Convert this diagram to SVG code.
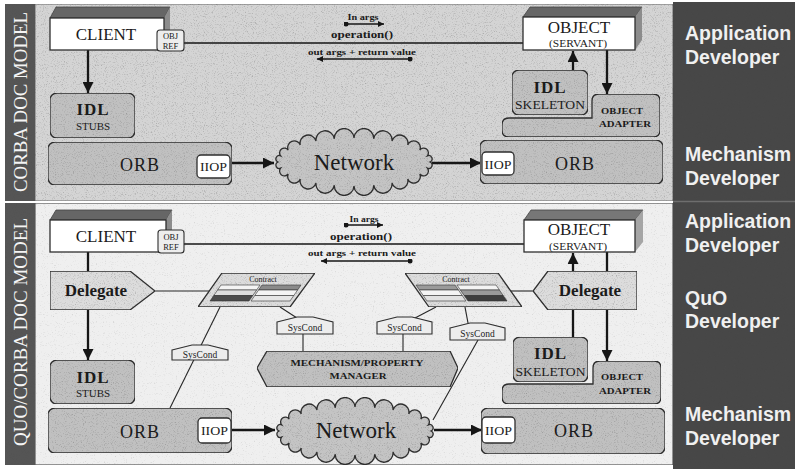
<svg xmlns="http://www.w3.org/2000/svg" width="795" height="469" viewBox="0 0 795 469">
  <style>
    .box { fill: #c0c0c0; stroke: #2e2e2e; stroke-width: 1.3; filter: url(#grain); }
    .plain { fill: #ffffff; stroke: #2e2e2e; stroke-width: 1.3; }
    .light { fill: #dcdcdc; stroke: #2e2e2e; stroke-width: 1.3; filter: url(#grain); }
    .tag { fill: #ededed; stroke: #2e2e2e; stroke-width: 1.1; }
    .topface { fill: #666666; stroke: #444; stroke-width: 0.8; }
    .sideface { fill: #8c8c8c; stroke: none; }
    .cloud { fill: #c4c4c4; stroke: #2e2e2e; stroke-width: 1.3; filter: url(#grain); }
    .grainy { filter: url(#grain); }
    .soft { filter: url(#grain-soft); }
    .serif { font-family: "Liberation Serif", "Times New Roman", serif; fill: #1b1b1b; text-anchor: middle; }
    .bold { font-weight: bold; }
    .side { font-family: "Liberation Sans", Arial, sans-serif; font-weight: bold; font-size: 19.5px; fill: #f0f0f0; }
    .band { font-family: "Liberation Serif", "Times New Roman", serif; font-size: 19px; fill: #f4f4f4; text-anchor: middle; }
    .conn { stroke: #161616; stroke-width: 2.3; fill: none; }
    .thin { stroke: #262626; stroke-width: 1.1; fill: none; }
    .msg { stroke: #161616; stroke-width: 1.3; fill: none; }
  </style>
  <defs>
    <!-- speckled print texture laid over a shape's own fill -->
    <filter id="grain" x="0" y="0" width="100%" height="100%" color-interpolation-filters="sRGB">
      <feTurbulence type="fractalNoise" baseFrequency="0.9" numOctaves="2" seed="7" result="noise"/>
      <feColorMatrix in="noise" type="matrix" values="0 0 0 0 0.3  0 0 0 0 0.3  0 0 0 0 0.3  0.9 0 0 0 -0.48" result="speck"/>
      <feComposite in="speck" in2="SourceGraphic" operator="in" result="clipped"/>
      <feMerge>
        <feMergeNode in="SourceGraphic"/>
        <feMergeNode in="clipped"/>
      </feMerge>
    </filter>
    <filter id="grain-soft" x="0" y="0" width="100%" height="100%" color-interpolation-filters="sRGB">
      <feTurbulence type="fractalNoise" baseFrequency="0.9" numOctaves="2" seed="11" result="noise"/>
      <feColorMatrix in="noise" type="matrix" values="0 0 0 0 0.4  0 0 0 0 0.4  0 0 0 0 0.4  0.6 0 0 0 -0.36" result="speck"/>
      <feComposite in="speck" in2="SourceGraphic" operator="in" result="clipped"/>
      <feMerge>
        <feMergeNode in="SourceGraphic"/>
        <feMergeNode in="clipped"/>
      </feMerge>
    </filter>
    <marker id="arrow" viewBox="0 0 10 10" refX="10" refY="5" markerWidth="12" markerHeight="11" markerUnits="userSpaceOnUse" orient="auto">
      <path d="M0,0 L10,5 L0,10 z" fill="#161616"/>
    </marker>
    <marker id="arrow-s" viewBox="0 0 10 10" refX="10" refY="5" markerWidth="8" markerHeight="6" markerUnits="userSpaceOnUse" orient="auto">
      <path d="M0,0 L10,5 L0,10 z" fill="#161616"/>
    </marker>
    <marker id="dot" viewBox="0 0 10 10" refX="5" refY="5" markerWidth="5" markerHeight="5" markerUnits="userSpaceOnUse">
      <circle cx="5" cy="5" r="5" fill="#161616"/>
    </marker>
    <!-- bumpy cloud outline centred on the origin -->
    <path id="cloud-shape" d="M76,0 A1,1 0 0 1 73.4,6.2 A1,1 0 0 1 65.8,12 A1,1 0 0 1 53.7,17 A1,1 0 0 1 38,20.8 A1,1 0 0 1 19.7,23.2 A1,1 0 0 1 0,24 A1,1 0 0 1 -19.7,23.2 A1,1 0 0 1 -38,20.8 A1,1 0 0 1 -53.7,17 A1,1 0 0 1 -65.8,12 A1,1 0 0 1 -73.4,6.2 A1,1 0 0 1 -76,0 A1,1 0 0 1 -73.4,-6.2 A1,1 0 0 1 -65.8,-12 A1,1 0 0 1 -53.7,-17 A1,1 0 0 1 -38,-20.8 A1,1 0 0 1 -19.7,-23.2 A1,1 0 0 1 0,-24 A1,1 0 0 1 19.7,-23.2 A1,1 0 0 1 38,-20.8 A1,1 0 0 1 53.7,-17 A1,1 0 0 1 65.8,-12 A1,1 0 0 1 73.4,-6.2 A1,1 0 0 1 76,0 Z"/>
  </defs>

  <!-- page and bands -->
  <rect x="0" y="0" width="795" height="469" fill="#ffffff"/>
  <g id="frame">
    <rect class="grainy" x="35" y="4" width="638" height="197" fill="#d4d4d4" stroke="#6a6a6a" stroke-width="1"/>
    <rect class="soft" x="35" y="203" width="638" height="262" fill="#efefef" stroke="#555" stroke-width="1.2"/>
    <rect class="grainy" x="5" y="4" width="30" height="197" fill="#555555"/>
    <rect class="grainy" x="5" y="203" width="30" height="262" fill="#555555"/>
    <rect class="grainy" x="673" y="2" width="122" height="467" fill="#474747"/>
    <line x1="673" y1="201.5" x2="795" y2="201.5" stroke="#6e6e6e" stroke-width="1.5"/>
    <text class="band" transform="translate(27,102) rotate(-90)" textLength="180" lengthAdjust="spacingAndGlyphs">CORBA DOC MODEL</text>
    <text class="band" transform="translate(27,332) rotate(-90)" textLength="228" lengthAdjust="spacingAndGlyphs">QUO/CORBA DOC MODEL</text>
  </g>

  <!-- role labels -->
  <g id="roles">
    <text class="side" x="685" y="40">Application</text>
    <text class="side" x="685" y="64">Developer</text>
    <text class="side" x="685" y="161">Mechanism</text>
    <text class="side" x="685" y="185">Developer</text>
    <text class="side" x="685" y="228">Application</text>
    <text class="side" x="685" y="252">Developer</text>
    <text class="side" x="685" y="305">QuO</text>
    <text class="side" x="685" y="328">Developer</text>
    <text class="side" x="685" y="421">Mechanism</text>
    <text class="side" x="685" y="445">Developer</text>
  </g>

  <!-- connectors -->
  <g id="connectors">
    <!-- CORBA model -->
    <line class="conn" x1="184" y1="43" x2="523" y2="43" style="stroke-width:1.4"/>
    <line class="conn" x1="88" y1="50" x2="88" y2="93" marker-end="url(#arrow)"/>
    <line class="conn" x1="573" y1="70" x2="573" y2="51" marker-end="url(#arrow)"/>
    <line class="conn" x1="607" y1="50" x2="607" y2="94" marker-end="url(#arrow)"/>
    <line class="conn" x1="231" y1="163" x2="274" y2="163" marker-end="url(#arrow)"/>
    <line class="conn" x1="432" y1="163" x2="481" y2="163" marker-end="url(#arrow)"/>
    <line class="msg" x1="346" y1="24" x2="384" y2="24" marker-start="url(#dot)" marker-end="url(#arrow-s)"/>
    <line class="msg" x1="410" y1="59" x2="317" y2="59" marker-start="url(#dot)" marker-end="url(#arrow-s)"/>

    <!-- QuO/CORBA model -->
    <line class="conn" x1="184" y1="244" x2="524" y2="244" style="stroke-width:1.4"/>
    <line class="conn" x1="88" y1="252" x2="88" y2="271"/>
    <line class="conn" x1="88" y1="310" x2="88" y2="360" marker-end="url(#arrow)"/>
    <line class="conn" x1="573" y1="271" x2="573" y2="253" marker-end="url(#arrow)"/>
    <line class="conn" x1="573" y1="310" x2="573" y2="337"/>
    <line class="conn" x1="607" y1="252" x2="607" y2="361" marker-end="url(#arrow)"/>
    <line class="conn" x1="231" y1="430" x2="275" y2="430" marker-end="url(#arrow)"/>
    <line class="conn" x1="434" y1="430" x2="482" y2="430" marker-end="url(#arrow)"/>
    <line class="msg" x1="346" y1="225" x2="383" y2="225" marker-start="url(#dot)" marker-end="url(#arrow-s)"/>
    <line class="msg" x1="410" y1="261" x2="321" y2="261" marker-start="url(#dot)" marker-end="url(#arrow-s)"/>

    <line class="thin" x1="155" y1="291" x2="210" y2="291"/>
    <line class="thin" x1="511" y1="291" x2="533" y2="291"/>
    <line class="thin" x1="220" y1="307" x2="170" y2="408"/>
    <line class="thin" x1="280" y1="307" x2="297" y2="318"/>
    <line class="thin" x1="303" y1="334" x2="303" y2="351"/>
    <line class="thin" x1="403" y1="334" x2="403" y2="351"/>
    <line class="thin" x1="436" y1="307" x2="415" y2="318"/>
    <line class="thin" x1="465" y1="307" x2="468" y2="323"/>
    <line class="thin" x1="478" y1="340" x2="433" y2="420"/>
  </g>

  <!-- message labels -->
  <g id="messages">
    <text class="serif bold" x="363" y="20" font-size="8.5" textLength="31" lengthAdjust="spacingAndGlyphs">In args</text>
    <text class="serif bold" x="362" y="38" font-size="10" textLength="62" lengthAdjust="spacingAndGlyphs">operation()</text>
    <text class="serif bold" x="362" y="55" font-size="9" textLength="108" lengthAdjust="spacingAndGlyphs">out args + return value</text>
    <text class="serif bold" x="364" y="222" font-size="8.5" textLength="29" lengthAdjust="spacingAndGlyphs">In args</text>
    <text class="serif bold" x="361" y="240" font-size="10" textLength="62" lengthAdjust="spacingAndGlyphs">operation()</text>
    <text class="serif bold" x="362" y="256" font-size="9" textLength="108" lengthAdjust="spacingAndGlyphs">out args + return value</text>
  </g>

  <!-- ===== CORBA model nodes ===== -->
  <g id="client-1">
    <polygon class="topface" points="50,18 56,7 170,7 164,18"/>
    <polygon class="sideface" points="164,18 170,7 170,40 164,50"/>
    <rect class="plain" x="50" y="18" width="114" height="32"/>
    <text class="serif" x="106" y="40" font-size="17">CLIENT</text>
    <rect class="tag" x="157" y="30" width="27" height="21" rx="3"/>
    <text class="serif" x="170.5" y="39" font-size="8.5">OBJ</text>
    <text class="serif" x="170.5" y="49" font-size="8.5">REF</text>
  </g>
  <g id="object-1">
    <polygon class="topface" points="523,17 530,7 642,7 635,17"/>
    <polygon class="sideface" points="635,17 642,7 642,40 635,50"/>
    <rect class="plain" x="523" y="17" width="112" height="33"/>
    <text class="serif" x="579" y="33" font-size="17">OBJECT</text>
    <text class="serif" x="578" y="47" font-size="10" textLength="58" lengthAdjust="spacingAndGlyphs">(SERVANT)</text>
  </g>
  <g id="stubs-1">
    <rect class="box" x="50" y="93" width="85" height="45" rx="7"/>
    <text class="serif bold" x="93" y="115" font-size="17" letter-spacing="1">IDL</text>
    <text class="serif" x="93" y="130" font-size="11">STUBS</text>
  </g>
  <g id="orb-client-1">
    <rect class="box" x="48" y="142" width="184" height="43" rx="7"/>
    <text class="serif" x="140" y="171" font-size="18" letter-spacing="1">ORB</text>
    <rect class="plain" x="197" y="155" width="33" height="23" rx="4"/>
    <text class="serif" x="213.5" y="171" font-size="13" textLength="27" lengthAdjust="spacingAndGlyphs">IIOP</text>
  </g>
  <g id="network-1">
    <use href="#cloud-shape" class="cloud" transform="translate(354,162)"/>
    <text class="serif" x="354" y="170" font-size="23">Network</text>
  </g>
  <g id="orb-server-1">
    <rect class="box" x="480" y="140" width="183" height="44" rx="7"/>
    <text class="serif" x="575" y="170" font-size="18" letter-spacing="1">ORB</text>
    <rect class="plain" x="482" y="152" width="32" height="23" rx="4"/>
    <text class="serif" x="498" y="169" font-size="13" textLength="27" lengthAdjust="spacingAndGlyphs">IIOP</text>
  </g>
  <g id="adapter-1">
    <path class="box" d="M502,125 q0,-7 7,-7 h83 v-17 q0,-7 7,-7 h54 q7,0 7,7 v29 q0,7 -7,7 h-144 q-7,0 -7,-7 z"/>
    <text class="serif bold" x="622" y="114" font-size="9" textLength="42" lengthAdjust="spacingAndGlyphs">OBJECT</text>
    <text class="serif bold" x="625" y="127" font-size="9" textLength="52" lengthAdjust="spacingAndGlyphs">ADAPTER</text>
  </g>
  <g id="skeleton-1">
    <rect class="box" x="512" y="70" width="76" height="45" rx="7"/>
    <text class="serif bold" x="550" y="93" font-size="17" letter-spacing="1">IDL</text>
    <text class="serif" x="550" y="109" font-size="12.5" textLength="70" lengthAdjust="spacingAndGlyphs">SKELETON</text>
  </g>

  <!-- ===== QuO/CORBA model nodes ===== -->
  <g id="client-2">
    <polygon class="topface" points="50,220 56,210 172,210 166,220"/>
    <polygon class="sideface" points="166,220 172,210 172,242 166,252"/>
    <rect class="plain" x="50" y="220" width="116" height="32"/>
    <text class="serif" x="106" y="242" font-size="17">CLIENT</text>
    <rect class="tag" x="158" y="230" width="26" height="23" rx="3"/>
    <text class="serif" x="171" y="240" font-size="8.5">OBJ</text>
    <text class="serif" x="171" y="250" font-size="8.5">REF</text>
  </g>
  <g id="object-2">
    <polygon class="topface" points="524,220 531,210 643,210 635,220" style="fill:#777"/>
    <polygon class="sideface" points="635,220 643,210 643,242 635,252" style="fill:#a5a5a5"/>
    <rect class="plain" x="524" y="220" width="111" height="32"/>
    <text class="serif" x="579" y="235" font-size="17">OBJECT</text>
    <text class="serif" x="578" y="250" font-size="10" textLength="58" lengthAdjust="spacingAndGlyphs">(SERVANT)</text>
  </g>
  <g id="delegate-client">
    <polygon class="light" points="50,271 130,271 155,291 130,310 50,310"/>
    <text class="serif bold" x="96" y="296" font-size="17">Delegate</text>
  </g>
  <g id="delegate-server">
    <polygon class="light" points="533,291 548,271 637,271 637,310 548,310"/>
    <text class="serif bold" x="590" y="296" font-size="17">Delegate</text>
  </g>
  <g id="contract-client">
    <polygon class="light" points="222,273 315,273 290,307 198,307"/>
    <text class="serif" x="263" y="282" font-size="8">Contract</text>
    <polygon points="221,285 260,285 256.6,290 217.6,290" fill="#f4f4f4" stroke="#333" stroke-width="0.6"/>
    <polygon points="217.6,290 256.6,290 252.8,295.5 213.8,295.5" fill="#dcdcdc" stroke="#333" stroke-width="0.6"/>
    <polygon points="213.8,295.5 252.8,295.5 249,301 210,301" fill="#4a4a4a" stroke="#333" stroke-width="0.6"/>
    <polygon points="262,285 301,285 297.6,290 258.6,290" fill="#8a8a8a" stroke="#333" stroke-width="0.6"/>
    <polygon points="258.6,290 297.6,290 293.8,295.5 254.8,295.5" fill="#f4f4f4" stroke="#333" stroke-width="0.6"/>
    <polygon points="254.8,295.5 293.8,295.5 290,301 251,301" fill="#e6e6e6" stroke="#333" stroke-width="0.6"/>
  </g>
  <g id="contract-server">
    <polygon class="light" points="405,273 498,273 522,307 429,307"/>
    <text class="serif" x="456" y="282" font-size="8">Contract</text>
    <polygon points="416,285 455,285 458.4,290 419.4,290" fill="#9a9a9a" stroke="#333" stroke-width="0.6"/>
    <polygon points="419.4,290 458.4,290 462.2,295.5 423.2,295.5" fill="#f4f4f4" stroke="#333" stroke-width="0.6"/>
    <polygon points="423.2,295.5 462.2,295.5 466,301 427,301" fill="#e2e2e2" stroke="#333" stroke-width="0.6"/>
    <polygon points="457,285 496,285 499.4,290 460.4,290" fill="#f4f4f4" stroke="#333" stroke-width="0.6"/>
    <polygon points="460.4,290 499.4,290 503.2,295.5 464.2,295.5" fill="#9a9a9a" stroke="#333" stroke-width="0.6"/>
    <polygon points="464.2,295.5 503.2,295.5 507,301 468,301" fill="#3e3e3e" stroke="#333" stroke-width="0.6"/>
  </g>
  <g id="syscond-1">
    <polygon class="tag" points="172,350 192,345 208,345 228,350 228,360 172,360"/>
    <text class="serif" x="200" y="357.5" font-size="9.5">SysCond</text>
  </g>
  <g id="syscond-2">
    <polygon class="tag" points="277,322 297,317 313,317 333,322 333,334 277,334"/>
    <text class="serif" x="305" y="331" font-size="9.5">SysCond</text>
  </g>
  <g id="syscond-3">
    <polygon class="tag" points="377,322 397,317 412,317 432,322 432,334 377,334"/>
    <text class="serif" x="404.5" y="331" font-size="9.5">SysCond</text>
  </g>
  <g id="syscond-4">
    <polygon class="tag" points="450,328 470,323 485,323 505,328 505,340 450,340"/>
    <text class="serif" x="477.5" y="337" font-size="9.5">SysCond</text>
  </g>
  <g id="property-manager">
    <polygon class="box" points="257,368 267,351 450,351 458,368 450,387 267,387"/>
    <text class="serif bold" x="357" y="366" font-size="9" textLength="133" lengthAdjust="spacingAndGlyphs">MECHANISM/PROPERTY</text>
    <text class="serif bold" x="358" y="379" font-size="9" textLength="57" lengthAdjust="spacingAndGlyphs">MANAGER</text>
  </g>
  <g id="stubs-2">
    <rect class="box" x="50" y="360" width="85" height="44" rx="7"/>
    <text class="serif bold" x="93" y="383" font-size="17" letter-spacing="1">IDL</text>
    <text class="serif" x="93" y="397" font-size="11">STUBS</text>
  </g>
  <g id="orb-client-2">
    <rect class="box" x="48" y="408" width="184" height="45" rx="7"/>
    <text class="serif" x="140" y="438" font-size="18" letter-spacing="1">ORB</text>
    <rect class="plain" x="198" y="418" width="33" height="25" rx="4"/>
    <text class="serif" x="214.5" y="435" font-size="13" textLength="27" lengthAdjust="spacingAndGlyphs">IIOP</text>
  </g>
  <g id="network-2">
    <use href="#cloud-shape" class="cloud" transform="translate(355,431)"/>
    <text class="serif" x="356" y="438" font-size="23">Network</text>
  </g>
  <g id="orb-server-2">
    <rect class="box" x="481" y="408" width="184" height="46" rx="7"/>
    <text class="serif" x="574" y="437" font-size="18" letter-spacing="1">ORB</text>
    <rect class="plain" x="482" y="417" width="33" height="26" rx="4"/>
    <text class="serif" x="498.5" y="435" font-size="13" textLength="27" lengthAdjust="spacingAndGlyphs">IIOP</text>
  </g>
  <g id="adapter-2">
    <path class="box" d="M502,391 q0,-7 7,-7 h84 v-16 q0,-7 7,-7 h54 q7,0 7,7 v29 q0,7 -7,7 h-145 q-7,0 -7,-7 z"/>
    <text class="serif bold" x="622" y="380" font-size="9" textLength="42" lengthAdjust="spacingAndGlyphs">OBJECT</text>
    <text class="serif bold" x="625" y="394" font-size="9" textLength="52" lengthAdjust="spacingAndGlyphs">ADAPTER</text>
  </g>
  <g id="skeleton-2">
    <rect class="box" x="513" y="337" width="75" height="45" rx="7"/>
    <text class="serif bold" x="550.5" y="359" font-size="17" letter-spacing="1">IDL</text>
    <text class="serif" x="550.5" y="376" font-size="12.5" textLength="70" lengthAdjust="spacingAndGlyphs">SKELETON</text>
  </g>
</svg>
